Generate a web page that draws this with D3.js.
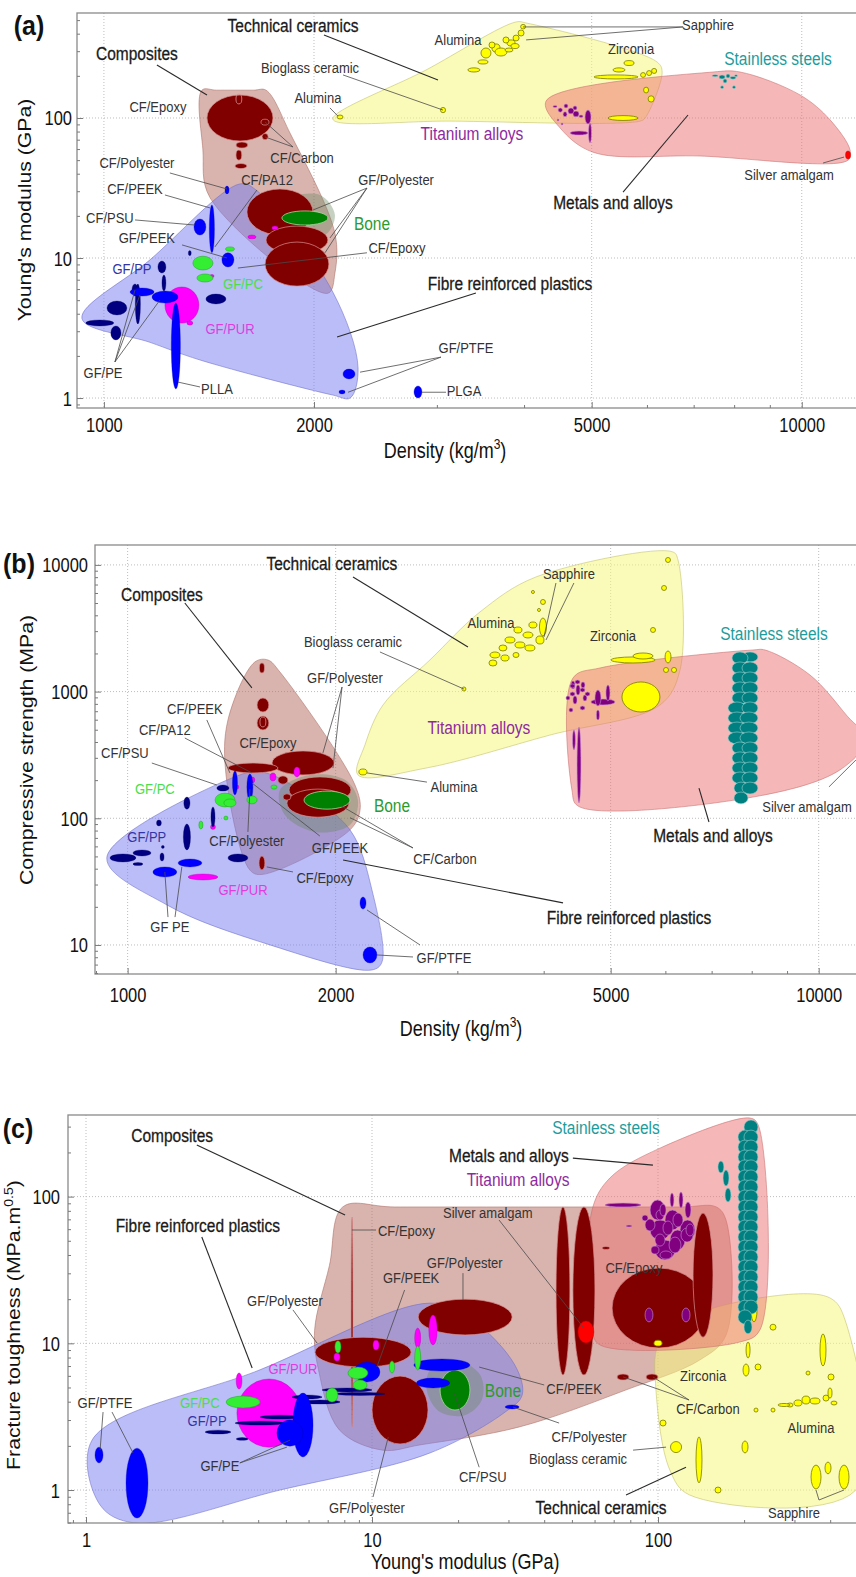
<!DOCTYPE html>
<html><head><meta charset="utf-8">
<script src="https://cdn.jsdelivr.net/npm/d3@7"></script>
<style>body{margin:0;background:#fff}svg{display:block}</style>
</head><body>
<svg id="chart" width="856" height="1577"></svg>
<script>
const FONT = '"Liberation Sans", Arial, sans-serif';

/* ---------------- Panel (a): Young's modulus vs density ---------------- */
const aXTicks = [1000, 2000, 5000, 10000];
const aYTicks = [1, 10, 100];
const aEnvComposites = [[1382,158],[1450,158],[1640,158],[1707,158],[1848,78],[2143,15],[2143,7.8],[2094,5.6],[1419,27],[1386,60]];
const aEnvCeramics = [[2129,98],[2894,220],[3896,485],[4027,477],[6205,251],[6308,213],[5963,100],[5865,95],[3133,95]];
const aEnvMetals = [[4301,132],[7464,213],[8157,213],[9945,146],[10978,97],[11727,59],[11650,50],[7150,53.5],[5021,57],[4504,85]];
const aEnvFRP = [[930,3.7],[1164,9.7],[1566,33.8],[1652,30.6],[2129,5.7],[2313,1.64],[2253,1.0],[2129,1.05],[1373,1.87],[1164,2.5]];
const aEnvBone = [[1817,26],[2040,28.2],[2143,20.3],[2074,14.6],[1879,15.3],[1788,20.3]];
// ellipses: [xLo, xHi, yLo, yHi]
const aCF = [[1405,1747,68.5,146],[1679,1724,89,98],[1685,1719,70,77.5],[1546,1608,61,67.4],[1546,1576,50,59],[1541,1603,43.5,47.3],[1603,1993,14.6,31.1],[1707,2094,10.7,16.9],[1702,2101,6.3,13]];
const aCFOutline = [[1546,1576,126,148]];
const aBone = [[1799,2094,17.2,21.7]];
const aMagenta = [[1741,1776,15.9,16.9],[1608,1652,13.7,14.6],[1223,1368,3.43,6.21],[1315,1341,3.32,3.55],[1419,1438,7.26,7.63]];
const aYellow = [[2158,2201,98.4,105],[3036,3087,109,119],[3470,3586,268,316],[3598,3695,296,338],[3634,3781,277,316],[3781,3883,327,361],[3857,3935,355,391],[3922,4000,385,425],[3955,4020,432,466],[3731,3806,343,379],[3436,3551,243,260],[3323,3458,213,228],[3756,3857,296,316],[3563,3634,316,349],[3831,3935,313,340],[5563,5750,237,257],[5364,5581,213,228],[5038,5827,190,203],[5875,5973,195,211],[5993,6093,201,218],[6093,6195,208,226],[5934,6033,151,166],[6023,6144,130,144],[5276,5827,96,104]];
const aPurple = [[4401,4460,119,123],[4475,4541,110,118],[4563,4624,118,126],[4549,4609,102,111],[4624,4716,107,118],[4701,4795,102,112],[4701,4763,114,122],[4795,4859,101,105],[4460,4489,95.2,98.4],[4519,4549,89.1,92.1],[4891,4989,90.6,114],[4655,4940,75.6,80.7],[4948,4997,66.3,92.1]];
const aTeal = [[7440,7586,197,204],[7611,7764,190,203],[7789,7892,193,206],[7892,8049,189,198],[7713,7814,178,190],[8010,8090,197,204],[7650,7726,162,170],[7957,8036,162,170]];
const aRed = [[11554,11746,50.9,58.1]];
const aNavy = [[1195,1227,7.81,9.52],[1211,1227,5.81,7.56],[1097,1119,5.35,6.52],[1109,1128,3.38,6.52],[1010,1079,3.92,4.93],[942,1033,3.27,3.61],[1023,1058,2.6,3.27],[1400,1496,4.7,5.53],[1321,1334,10.4,11.3]];
const aBlue = [[1491,1511,28.7,32.7],[1416,1440,10.9,23.9],[1346,1400,14.6,19.0],[1476,1536,8.63,10.9],[1090,1180,5.35,6.11],[1172,1277,4.77,5.81],[1249,1287,1.16,4.77],[2201,2290,1.37,1.61],[2172,2216,1.07,1.14],[2782,2856,1.0,1.22]];
const aLime = [[1341,1433,8.21,10.3],[1359,1433,6.74,7.69],[1494,1538,11.2,12]];
// labels: [text, x, y]
const aGroupLabels = [["Technical ceramics",1866,462],["Composites",1115,291],["Fibre reinforced plastics",3819,6.63],["Metals and alloys",5364,25.1]];
const aMatLabels = [["Bioglass ceramic",1974,231],["Alumina",2026,139],["CF/Epoxy",1195,120],["CF/Carbon",1923,52.6],["CF/Polyester",1115,48.5],["CF/PA12",1713,36.1],["CF/PEEK",1108,31.6],["GF/Polyester",2622,36.1],["CF/PSU",1020,19.6],["GF/PEEK",1152,14.1],["CF/Epoxy",2630,11.8],["GF/PE",997,1.53],["PLLA",1452,1.18],["GF/PTFE",3302,2.31],["PLGA",3281,1.14],["Sapphire",7341,462],["Alumina",3217,361],["Zirconia",5694,316],["Silver amalgam",9590,39.8]];
const aColorLabels = [["Bone",2422,17.8,"bone"],["GF/PP",1097,8.48,"pp"],["GF/PC",1582,6.63,"pc"],["GF/PUR",1516,3.16,"pur"],["Stainless steels",9247,268,"ss"],["Titanium alloys",3368,78.1,"ti"]];
const aGroupLeaders = [[2067,391,3011,187],[1191,239,1405,146],[3413,5.62,2158,2.73],[5545,29.6,6871,105]];
const aMatLeaders = [[2201,203,3061,114],[2108,118,2165,103],[1866,62.1,1702,93.6],[1866,62.1,1702,73.2],[1243,40.5,1501,31.1],[1657,30.6,1442,12.0],[1223,28.2,1419,22.8],[2382,31.6,1993,22.0],[2382,31.6,2108,13.9],[2382,31.6,2074,10.9],[1108,18.7,1350,17.2],[1294,12.4,1501,10.0],[2382,10.9,1556,8.48],[1037,1.81,1108,5.91],[1037,1.81,1126,5.44],[1037,1.81,1203,5.01],[1373,1.20,1277,1.30],[3041,1.96,2328,1.53],[3041,1.96,2238,1.10],[3092,1.10,2856,1.10],[6761,447,3987,447],[6761,447,4027,361],[10728,47.7,11497,52.6]];

/* ---------------- Panel (b): compressive strength vs density ---------------- */
const bXTicks = [1000, 2000, 5000, 10000];
const bYTicks = [10, 100, 1000, 10000];
const bEnvComposites = [[1528,1713],[1596,1776],[1661,1428],[2133,183],[2169,116],[2098,81],[1564,36],[1503,39],[1388,220],[1397,597]];
const bEnvCeramics = [[2154,220],[2205,379],[2342,784],[2738,1776],[3235,4249],[3898,8026],[6154,12645],[6258,10932],[6300,1481],[5894,784],[4085,454],[2702,249]];
const bEnvMetals = [[4410,1280],[4826,1536],[8032,2130],[8363,2130],[9714,1352],[11000,640],[11700,420],[10735,241],[8032,147],[4485,125],[4395,167]];
const bEnvFRP = [[933,48.6],[1454,220],[1564,232],[1776,167],[2098,81],[2257,27.2],[2333,7.3],[2257,6.35],[1590,10.2],[1140,20.7]];
const bEnvBone = [[1661,167],[1836,220],[2063,201],[2154,139],[2098,88.5],[1866,78],[1689,106]];
const bCF = [[1551,1578,1402,1682],[1539,1601,690,890],[1539,1601,498,642],[1618,1989,220,340],[1712,2105,132,212],[1700,2091,102,170],[1397,1650,228,273],[1678,1723,139,156],[1549,1580,39.1,50.4],[1650,1706,186,216]];
const bCFOutline = [[1554,1585,526,630]];
const bBone = [[1800,2098,118,164]];
const bMagenta = [[1498,1528,190,212],[1607,1639,197,228],[1740,1776,212,254],[1318,1340,81.6,89.3],[1223,1351,32.6,36.3],[1430,1449,170,183]];
const bYellow = [[2161,2220,220,245],[3046,3087,1011,1087],[3344,3458,1842,2054],[3446,3539,2092,2333],[3333,3423,1592,1776],[3516,3635,2419,2697],[3635,3758,2209,2464],[3733,3860,2649,2954],[3623,3721,2901,3235],[3808,3911,3177,3542],[3758,3885,2092,2333],[3898,4004,2375,2747],[3944,4037,2747,3809],[3469,3564,1744,1945],[3611,3684,1858,2035],[3840,3879,5947,6281],[3958,4023,4869,5333],[3918,3958,4288,4529],[6003,6103,10447,11439],[5924,6023,6281,6879],[5710,5806,2928,3206],[5005,5797,1682,1876],[5386,5758,1808,2017],[5994,6113,1682,2092],[5963,6063,1415,1550],[6124,6227,1415,1550],[5192,5892,690,1191]];
const bPurple = [[4381,4440,1048,1212],[4455,4515,940,1127],[4529,4590,1068,1191],[4410,4470,798,923],[4559,4620,843,940],[4351,4410,690,742],[4681,5073,784,874],[4745,4841,770,1029],[4922,4989,843,1127],[4768,4817,597,716],[4470,4529,132,526],[4403,4446,346,498],[4366,4440,1068,1148],[4515,4590,993,1068],[4440,4515,1148,1235],[4590,4667,923,993],[4308,4366,859,923],[4515,4590,716,770],[4366,4440,923,993]];
const bTeal = [[7745,8168,1713,2054],[7491,7902,1651,2054],[7491,7902,1377,1713],[7745,8168,1377,1713],[7491,7902,1148,1428],[7745,8168,1148,1428],[7491,7902,957,1191],[7745,8168,957,1191],[7491,7902,798,993],[7745,8168,798,993],[7391,7850,665,828],[7745,8168,665,828],[7391,7850,555,690],[7693,8168,555,690],[7391,7850,463,575],[7693,8168,463,575],[7391,7850,386,480],[7693,8168,386,480],[7491,7902,322,400],[7745,8168,322,400],[7491,7902,268,334],[7745,8168,268,334],[7491,7902,224,278],[7745,8168,224,278],[7491,7902,187,232],[7745,8168,187,232],[7541,7902,155.5,193],[7745,8168,155.5,193],[7541,7902,130,161]];
const bRed = [];
const bNavy = [[1346,1402,164,183],[1206,1231,118,147],[1320,1338,85.3,123],[1204,1233,56.2,90.2],[1101,1119,87,97],[943,1028,45.2,52.3],[1018,1081,50.4,56.2],[1018,1052,42.4,44.8],[1114,1129,46,53.2],[1119,1130,57.8,61],[1397,1493,45.2,52.3]];
const bBlue = [[1418,1442,153,236],[1488,1518,139,224],[1088,1178,34.4,41.3],[1183,1281,41.3,47.7],[2169,2213,19.2,23.9],[2191,2295,7.21,9.64]];
const bLime = [[1338,1430,123,158],[1378,1435,123,142],[1488,1539,130,150],[1612,1645,170,183],[1378,1397,97,104],[1268,1285,82.3,95.2]];
const bGroupLabels = [["Technical ceramics",1975,10351],["Composites",1121,5892],["Fibre reinforced plastics",5315,16.6],["Metals and alloys",7031,73.8]];
const bMatLabels = [["Bioglass ceramic",2119,2464],["GF/Polyester",2063,1304],["CF/PEEK",1251,742],["CF/PA12",1132,498],["CF/Epoxy",1596,400],["CF/PSU",991,328],["CF/Polyester",1488,67.4],["GF/PEEK",2029,58.3],["CF/Carbon",2879,48.6],["CF/Epoxy",1930,33.8],["GF PE",1151,13.9],["GF/PTFE",2869,7.9],["Sapphire",4351,8630],["Alumina",3356,3542],["Zirconia",5039,2797],["Alumina",2967,177],["Silver amalgam",9618,123]];
const bColorLabels = [["GF/PC",1095,173,"pc"],["Bone",2413,127,"bone"],["GF/PP",1066,71.2,"pp"],["GF/PUR",1469,27.2,"pur"],["Stainless steels",8615,2901,"ss"],["Titanium alloys",3224,526,"ti"]];
const bGroupLeaders = [[2119,8026,3108,2249],[1210,5003,1513,1068],[4266,21.5,2050,46.9],[6938,93.5,6711,173]];
const bMatLeaders = [[2318,2054,3066,1048],[2043,1087,1917,328],[2043,1087,1982,249],[1302,597,1406,228],[1210,430,1513,228],[1084,273,1346,183],[1493,78,1503,170],[1897,72.5,1513,190],[2588,58.3,2029,127],[2588,58.3,2098,101],[1735,37.7,1590,41.3],[1144,16.6,1132,37.7],[1171,16.6,1198,41.3],[2588,8.04,2295,8.34],[2649,10,2220,18.9],[4167,7195,4004,2697],[4424,7195,4031,2554],[2220,228,2711,193],[10349,177,11324,289]];

/* ---------------- Panel (c): fracture toughness vs Young's modulus ---------------- */
const cXTicks = [1, 10, 100];
const cYTicks = [1, 10, 100];
const cEnvComposites = [[7.9,85],[12,85],[120,85],[160,85],[173,69],[173,11.4],[140,7.7],[77,4.8],[32.7,2.69],[14.7,2.03],[10.9,1.87],[7.7,2.56],[6.5,6.6],[6.3,12.3],[7.1,34]];
const cEnvCeramics = [[100,9.74],[119,14],[227,20.4],[399,20.4],[451,14.4],[492,1],[129,0.925],[110,1.37],[98.4,4.8]];
const cEnvMetals = [[210,343],[224,308],[227,12.3],[193,10.2],[62.7,9.74],[58.8,12.3],[58.8,81],[67.9,134],[101.6,214]];
const cEnvFRP = [[1.05,2.19],[4.06,6.6],[15.95,18.8],[22,14.9],[31.6,7.1],[33.5,4.44],[29.2,3.4],[15.95,1.79],[4.77,1.0],[1.48,0.596],[1.12,0.79]];
const cEnvBone = [[15.95,6.58],[19.5,7.69],[23.9,6.08],[24.2,4.11],[21.1,3.24],[17.3,3.4],[15.6,4.66]];
const cCF = [[8.45,8.58,2.69,72.6],[6.32,13.7,6.89,11.0],[10,15.7,2.06,5.98],[14.5,30.9,11.4,20.0],[44,49.2,6.08,85],[50.4,60.2,6.08,85],[69.1,147,9.29,32.6],[132.6,155.7,11,77.3],[63.7,67.9,43.6,45.7],[71.9,79.2,5.62,6.18],[90.8,100,5.62,6.18]];
const cCFOutline = [];
const cBone = [[17.3,22,3.51,6.58]];
const cMagenta = [[3.37,5.65,1.96,5.71],[3.35,3.51,4.88,6.28],[7.36,7.73,7.58,8.59],[10.08,10.58,9,10.5],[15.8,16.9,9.74,15.6],[14.1,14.8,9.29,12.7]];
const cYellow = [[96.8,103.3,9.58,10.5],[211.4,221.9,14,20.4],[246.4,258.6,12.3,13.5],[368.5,386.7,7,11.6],[203.2,209.8,7.94,10.2],[198.3,208.1,5.98,7.23],[218.4,229.1,6.58,7.23],[329.3,340.1,6.08,6.47],[393,412.6,5.62,6.18],[282.5,296.5,3.68,3.92],[298.9,318.8,3.74,4.11],[318.8,340.1,3.86,4.37],[340.1,368.5,3.86,4.24],[377.5,396.2,4.04,4.44],[393,405.9,4.24,4.96],[402.6,422.5,3.8,4.04],[262.8,289.4,3.71,3.89],[216.6,223.7,3.4,3.62],[248.4,256.5,3.4,3.62],[101.6,106.7,2.73,3],[110.6,120.9,1.8,2.14],[135.8,142.5,1.12,2.3],[196.7,206.4,1.79,2.16],[158.2,166.1,0.954,1.048],[342.8,371.5,1.016,1.48],[383.6,402.6,1.29,1.55],[429.5,465.4,1.016,1.48]];
const cPurple = [[65.3,87.2,85,90.4],[77.3,81.1,62.1,64],[93.8,105.8,69.3,94.8],[105.8,119.4,59.2,81],[119.4,134.7,50.6,69.3],[93.8,110.2,50.6,69.3],[110.2,124.3,43.3,59.2],[97.6,114.7,37,50.6],[90.1,97.6,58.3,70.4],[98.4,105,69.3,81],[104.1,112.8,54.7,68.2],[112.8,122.3,62.1,77.3],[120.3,132.6,49,61.1],[109.3,120.3,41.3,53],[97.6,105.8,46,55.6],[101.6,106.7,73.8,89],[110.2,113.7,85,105.8],[118.4,122.3,83.6,107.5],[124.3,130.4,71.5,91.9],[125.3,133.6,53.9,65.1],[94.5,100.8,40.6,46],[87.9,92.3,68.2,74.9],[101.6,111.9,37.5,42.6],[90.1,96,14,17.4],[121.3,129.4,14,17.4]];
const cTeal = [[199.8,223.7,267,333],[190.4,213.2,228,284],[199.8,223.7,228,284],[190.4,213.2,195,243],[199.8,223.7,195,243],[190.4,213.2,167,208],[199.8,223.7,167,208],[190.4,213.2,143,178],[199.8,223.7,143,178],[190.4,213.2,122,152],[199.8,223.7,122,152],[190.4,213.2,104,130],[199.8,223.7,104,130],[190.4,213.2,89,111],[199.8,223.7,89,111],[190.4,213.2,76.1,94.8],[199.8,223.7,76.1,94.8],[190.4,213.2,65.1,81],[199.8,223.7,65.1,81],[190.4,213.2,55.6,69.3],[199.8,223.7,55.6,69.3],[190.4,213.2,47.5,59.2],[199.8,223.7,47.5,59.2],[190.4,213.2,40.6,50.6],[199.8,223.7,40.6,50.6],[190.4,213.2,34.7,43.3],[199.8,223.7,34.7,43.3],[190.4,213.2,29.7,37],[199.8,223.7,29.7,37],[190.4,213.2,25.4,31.6],[199.8,223.7,25.4,31.6],[190.4,213.2,21.7,27],[199.8,223.7,21.7,27],[190.4,213.2,18.5,23.1],[199.8,223.7,18.5,23.1],[190.4,213.2,15.8,19.7],[199.8,223.7,15.8,19.7],[190.4,213.2,13.5,16.9],[199.8,213.2,11.6,14.4],[162,170,145,175],[168.8,177.1,118,152],[171.5,180,91.9,114.4]];
const cRed = [[52.5,59.7,10.05,14.2]];
const cNavy = [[5.25,6.69,4.17,4.44],[5.6,7.73,3.86,4.11],[4.06,5.6,3.05,3.24],[3.32,4.96,2.77,2.95],[2.61,3.21,2.41,2.56],[3.35,3.69,2.18,2.28],[6.69,10,4.66,4.96],[7.42,11.1,4.41,4.63]];
const cBlue = [[1.075,1.147,1.53,1.96],[1.38,1.647,0.644,1.93],[5.29,6.22,1.68,4.58],[4.65,5.74,1.99,3.0],[8.65,10.66,5.45,7.46],[14,22,6.47,7.82],[14.3,18.7,4.96,5.8],[29.2,32.7,3.57,3.8]];
const cLime = [[3.09,4.06,3.62,4.37],[6.91,7.6,3.98,4.96],[8.24,9.68,5.71,6.89],[8.58,9.6,4.8,5.62],[11.5,12,6.28,7.58],[7.42,7.79,8.59,10.4],[14.1,14.8,6.58,9.58]];
const cGroupLabels = [["Composites",2.0,263],["Fibre reinforced plastics",2.46,64],["Metals and alloys",30.1,192],["Technical ceramics",63.2,0.766]];
const cMatLabels = [["CF/Epoxy",13.2,59.2],["GF/Polyester",4.96,19.7],["GF/PEEK",13.7,27.9],["GF/Polyester",21.1,35.8],["GF/PTFE",1.165,3.98],["GF/PE",2.94,1.48],["GF/Polyester",9.6,0.766],["Silver amalgam",25.4,78.5],["CF/Epoxy",82.4,33.1],["Zirconia",143.7,6.08],["CF/PEEK",50.9,4.96],["CF/Carbon",149.5,3.62],["Alumina",342.8,2.69],["CF/Polyester",57.4,2.3],["Bioglass ceramic",52.5,1.65],["CF/PSU",24.4,1.23],["Sapphire",298.9,0.708]];
const cColorLabels = [["GF/PUR",5.29,6.79,"pur"],["GF/PC",2.5,3.98,"pc"],["GF/PP",2.65,3.0,"pp"],["Bone",28.7,4.8,"bone"],["Stainless steels",65.8,294,"ss"],["Titanium alloys",32.4,130,"ti"]];
const cGroupLeaders = [[2.44,225,8.05,74.9],[2.54,53,3.81,6.79],[50.4,183,96,164],[77.3,0.925,125.3,1.43]];
const cMatLeaders = [[8.51,59.2,10.33,59.2],[5.29,16.9,6.42,10.05],[13.0,23.1,10.4,6.89],[20.8,30.1,20.8,19.7],[1.147,3.40,1.12,1.87],[1.233,3.40,1.46,1.79],[3.45,1.53,5.04,1.96],[3.45,1.53,5.17,2.19],[10.08,0.896,11.4,2.3],[27.8,69.3,54.7,12.9],[40,5.2,23.7,6.89],[128.4,4.11,75.5,5.9],[128.4,4.11,96,5.9],[45.1,2.86,31.1,3.68],[81.8,1.87,106.7,1.96],[23.7,1.43,19.4,4.58],[365.5,0.855,356.8,1.0],[365.5,0.855,447,1.0]];

/* ---------------- drawing ---------------- */
const svg = d3.select("#chart");
const SY = 1.18; // vertical stretch of the original lettering
const labelColors = {bone:"#2e9a2e", pc:"#4ade4a", pp:"#3434a6", pur:"#e03ce0", ss:"#1e9c9c", ti:"#8e2a9e"};
const bigColor = {bone:true, ss:true, ti:true};

function minorTicks(domain, major) {
  const out = [];
  const k0 = Math.floor(Math.log10(domain[0])), k1 = Math.ceil(Math.log10(domain[1]));
  for (let k = k0; k <= k1; k++) for (let m = 1; m <= 9; m++) {
    const v = m * Math.pow(10, k);
    if (v >= domain[0] && v <= domain[1] && !major.includes(v)) out.push(v);
  }
  return out;
}

function drawPanel(p) {
  const x = d3.scaleLog().domain(p.xDomain).range([p.left, p.right]);
  const y = d3.scaleLog().domain(p.yDomain).range([p.bottom, p.top]);
  const g = svg.append("g");
  const cid = "clip-" + p.id;
  g.append("clipPath").attr("id", cid).append("rect")
    .attr("x", p.left).attr("y", p.top).attr("width", p.right - p.left).attr("height", p.bottom - p.top);

  g.append("g").selectAll("line").data(p.xTicks).join("line")
    .attr("x1", d => x(d)).attr("x2", d => x(d)).attr("y1", p.top).attr("y2", p.bottom)
    .attr("stroke", "#bdbdbd").attr("stroke-width", 1).attr("stroke-dasharray", "1,2");
  g.append("g").selectAll("line").data(p.yTicks).join("line")
    .attr("y1", d => y(d)).attr("y2", d => y(d)).attr("x1", p.left).attr("x2", p.right)
    .attr("stroke", "#bdbdbd").attr("stroke-width", 1).attr("stroke-dasharray", "1,2");

  const plot = g.append("g").attr("clip-path", `url(#${cid})`);
  const line = d3.line().x(d => x(d[0])).y(d => y(d[1])).curve(d3.curveCatmullRomClosed.alpha(0.5));
  const envs = [
    [p.envComposites, "rgb(180,106,94)", 0.5, "rgb(170,110,100)"],
    [p.envCeramics, "rgb(248,248,128)", 0.55, "rgb(190,190,100)"],
    [p.envMetals, "rgb(236,112,112)", 0.5, "rgb(200,110,110)"],
    [p.envFRP, "rgb(118,124,240)", 0.5, "rgb(110,110,200)"],
    [p.envBone, "rgb(105,135,95)", 0.38, "none"]
  ];
  envs.forEach(([pts, fill, op, stroke]) => {
    plot.append("path").attr("d", line(pts)).attr("fill", fill).attr("fill-opacity", op)
      .attr("stroke", stroke).attr("stroke-opacity", 0.7).attr("stroke-width", 0.8);
  });

  const sets = [
    [p.cf, "#800000", "#d89090", 0.7],
    [p.cfOutline, "none", "#d89090", 0.8],
    [p.bone, "#008000", "#a8d8a0", 0.8],
    [p.magenta, "#ff00ff", "#b000b0", 0.4],
    [p.yellow, "#ffff00", "#7a7a00", 0.8],
    [p.purple, "#800080", "#c890d0", 0.6],
    [p.teal, "#008080", "#9ad0d0", 0.6],
    [p.red, "#ff0000", "#c00000", 0.4],
    [p.navy, "#000080", "#000060", 0.3],
    [p.blue, "#0000ff", "#0000a0", 0.3],
    [p.lime, "#33ee33", "#20a020", 0.5]
  ];
  sets.forEach(([data, fill, stroke, sw]) => {
    plot.append("g").selectAll("ellipse").data(data).join("ellipse")
      .attr("cx", d => (x(d[0]) + x(d[1])) / 2)
      .attr("cy", d => (y(d[2]) + y(d[3])) / 2)
      .attr("rx", d => Math.max(0.7, (x(d[1]) - x(d[0])) / 2))
      .attr("ry", d => Math.max(0.7, (y(d[2]) - y(d[3])) / 2))
      .attr("fill", fill).attr("stroke", stroke).attr("stroke-width", sw);
  });

  g.append("g").selectAll("line").data(p.groupLeaders).join("line")
    .attr("x1", d => x(d[0])).attr("y1", d => y(d[1])).attr("x2", d => x(d[2])).attr("y2", d => y(d[3]))
    .attr("stroke", "#2a2a2a").attr("stroke-width", 1.1);
  g.append("g").selectAll("line").data(p.matLeaders).join("line")
    .attr("x1", d => x(d[0])).attr("y1", d => y(d[1])).attr("x2", d => x(d[2])).attr("y2", d => y(d[3]))
    .attr("stroke", "#4a4a4a").attr("stroke-width", 0.8);

  const tf = d => `translate(${x(d[1])},${y(d[2])}) scale(1,${SY})`;
  g.append("g").selectAll("text").data(p.groupLabels).join("text")
    .attr("transform", tf).attr("text-anchor", "middle").attr("dy", "0.36em")
    .attr("font-family", FONT).attr("font-size", 15.5).attr("fill", "#1a1a1a")
    .attr("stroke", "#1a1a1a").attr("stroke-width", 0.25).text(d => d[0]);
  g.append("g").selectAll("text").data(p.matLabels).join("text")
    .attr("transform", tf).attr("text-anchor", "middle").attr("dy", "0.36em")
    .attr("font-family", FONT).attr("font-size", 13).attr("fill", "#333").text(d => d[0]);
  g.append("g").selectAll("text").data(p.colorLabels).join("text")
    .attr("transform", tf).attr("text-anchor", "middle").attr("dy", "0.36em")
    .attr("font-family", FONT).attr("font-size", d => bigColor[d[3]] ? 15.5 : 13)
    .attr("fill", d => labelColors[d[3]]).text(d => d[0]);

  g.append("rect").attr("x", p.left).attr("y", p.top).attr("width", p.right - p.left + 20)
    .attr("height", p.bottom - p.top).attr("fill", "none").attr("stroke", "#8a8a8a").attr("stroke-width", 1.3);

  const styleAxis = sel => { sel.select(".domain").remove(); sel.selectAll(".tick line").attr("stroke", "#7a7a7a"); };
  const gxMin = g.append("g").attr("transform", `translate(0,${p.bottom})`)
    .call(d3.axisBottom(x).tickValues(minorTicks(p.xDomain, p.xTicks)).tickSize(-3).tickFormat(""));
  styleAxis(gxMin);
  const gyMin = g.append("g").attr("transform", `translate(${p.left},0)`)
    .call(d3.axisLeft(y).tickValues(minorTicks(p.yDomain, p.yTicks)).tickSize(-3).tickFormat(""));
  styleAxis(gyMin);
  const gx = g.append("g").attr("transform", `translate(0,${p.bottom})`)
    .call(d3.axisBottom(x).tickValues(p.xTicks).tickSize(-6).tickFormat(d => String(d)));
  styleAxis(gx);
  gx.selectAll(".tick text").attr("y", null).attr("dy", "0.36em")
    .attr("transform", `translate(0,${p.xLabOff}) scale(1,${SY})`)
    .attr("font-family", FONT).attr("font-size", 16.5).attr("fill", "#111");
  const gy = g.append("g").attr("transform", `translate(${p.left},0)`)
    .call(d3.axisLeft(y).tickValues(p.yTicks).tickSize(-6).tickFormat(d => String(d)));
  styleAxis(gy);
  gy.selectAll(".tick text").attr("x", null).attr("dy", "0.36em")
    .attr("transform", `translate(${-p.yLabOff},0) scale(1,${SY})`)
    .attr("font-family", FONT).attr("font-size", 16.5).attr("fill", "#111");

  const yt = g.append("text").attr("transform", `translate(${p.yTitle[0]},${p.yTitle[1]}) scale(1,${SY}) rotate(-90)`)
    .attr("text-anchor", "middle").attr("dy", "0.36em").attr("font-family", FONT).attr("font-size", 18).attr("fill", "#111");
  p.yTitleParts.forEach(([t, sup], i) => {
    const ts = yt.append("tspan").text(t);
    if (sup) ts.attr("font-size", 12).attr("dy", -7); else if (i > 0) ts.attr("dy", 7);
  });
  const xt = g.append("text").attr("transform", `translate(${p.xTitle[0]},${p.xTitle[1]}) scale(1,${SY})`)
    .attr("text-anchor", "middle").attr("dy", "0.36em").attr("font-family", FONT).attr("font-size", 18).attr("fill", "#111");
  p.xTitleParts.forEach(([t, sup], i) => {
    const ts = xt.append("tspan").text(t);
    if (sup) ts.attr("font-size", 12).attr("dy", -7); else if (i > 0) ts.attr("dy", 7);
  });
  g.append("text").attr("transform", `translate(${p.tag[0]},${p.tag[1]}) scale(1,1.1)`)
    .attr("text-anchor", "middle").attr("dy", "0.36em").attr("font-family", FONT)
    .attr("font-size", 25).attr("font-weight", "bold").attr("fill", "#111").text(p.tagText);
}

drawPanel({
  id: "a", left: 77, right: 856, top: 13, bottom: 408, xDomain: [915, 11960], yDomain: [0.849, 562],
  xTicks: aXTicks, yTicks: aYTicks, xLabOff: 17, yLabOff: 5,
  envComposites: aEnvComposites, envCeramics: aEnvCeramics, envMetals: aEnvMetals, envFRP: aEnvFRP, envBone: aEnvBone,
  cf: aCF, cfOutline: aCFOutline, bone: aBone, magenta: aMagenta, yellow: aYellow, purple: aPurple, teal: aTeal, red: aRed,
  navy: aNavy, blue: aBlue, lime: aLime,
  groupLabels: aGroupLabels, matLabels: aMatLabels, colorLabels: aColorLabels, groupLeaders: aGroupLeaders, matLeaders: aMatLeaders,
  yTitle: [25, 210], yTitleParts: [["Young's modulus (GPa)", false]],
  xTitle: [445, 450], xTitleParts: [["Density (kg/m", false], ["3", true], [")", false]],
  tag: [29, 25], tagText: "(a)"
});
drawPanel({
  id: "b", left: 95, right: 856, top: 545, bottom: 974, xDomain: [897, 11324], yDomain: [5.90, 14355],
  xTicks: bXTicks, yTicks: bYTicks, xLabOff: 21, yLabOff: 7,
  envComposites: bEnvComposites, envCeramics: bEnvCeramics, envMetals: bEnvMetals, envFRP: bEnvFRP, envBone: bEnvBone,
  cf: bCF, cfOutline: bCFOutline, bone: bBone, magenta: bMagenta, yellow: bYellow, purple: bPurple, teal: bTeal, red: bRed,
  navy: bNavy, blue: bBlue, lime: bLime,
  groupLabels: bGroupLabels, matLabels: bMatLabels, colorLabels: bColorLabels, groupLeaders: bGroupLeaders, matLeaders: bMatLeaders,
  yTitle: [27, 750], yTitleParts: [["Compressive strength (MPa)", false]],
  xTitle: [461, 1028], xTitleParts: [["Density (kg/m", false], ["3", true], [")", false]],
  tag: [19, 563], tagText: "(b)"
});
drawPanel({
  id: "c", left: 68, right: 856, top: 1115, bottom: 1523, xDomain: [0.865, 492.4], yDomain: [0.596, 360],
  xTicks: cXTicks, yTicks: cYTicks, xLabOff: 17, yLabOff: 8,
  envComposites: cEnvComposites, envCeramics: cEnvCeramics, envMetals: cEnvMetals, envFRP: cEnvFRP, envBone: cEnvBone,
  cf: cCF, cfOutline: cCFOutline, bone: cBone, magenta: cMagenta, yellow: cYellow, purple: cPurple, teal: cTeal, red: cRed,
  navy: cNavy, blue: cBlue, lime: cLime,
  groupLabels: cGroupLabels, matLabels: cMatLabels, colorLabels: cColorLabels, groupLeaders: cGroupLeaders, matLeaders: cMatLeaders,
  yTitle: [14, 1325], yTitleParts: [["Fracture toughness (MPa.m", false], ["0.5", true], [")", false]],
  xTitle: [465, 1561], xTitleParts: [["Young's modulus (GPa)", false]],
  tag: [18, 1128], tagText: "(c)"
});
</script>
</body></html>
